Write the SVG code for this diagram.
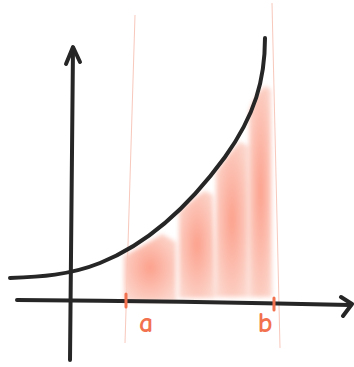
<svg xmlns="http://www.w3.org/2000/svg" width="354" height="367" viewBox="0 0 354 367">
<style>
.ink{fill:none;stroke:#262626;stroke-width:4;stroke-linecap:round;stroke-linejoin:round}
.guide{fill:none;stroke:#f8c8bc;stroke-width:1}
.tick{fill:none;stroke:#f2714e;stroke-width:3;stroke-linecap:round}
.lbl{font-family:"Comic Neue","Liberation Sans",sans-serif;font-size:28px;font-weight:bold;fill:#f2714e;text-anchor:middle}
.bar{filter:url(#soft)}
</style>
<defs>
<filter id="soft" x="-20%" y="-20%" width="140%" height="140%"><feGaussianBlur stdDeviation="2"/></filter>
<radialGradient id="g" cx="0.5" cy="0.5" r="0.6">
<stop offset="0" stop-color="#fca08c"/>
<stop offset="1" stop-color="#fcd6cc"/>
</radialGradient>
</defs>
<rect width="354" height="367" fill="#ffffff"/>
<g id="guides">
<path class="guide" d="M135 15 L125 343"/>
<path class="guide" d="M272 3 L280 348"/>
</g>
<g id="area" class="bar">
<path fill="url(#g)" d="M124 256 Q150 242 162 234 L176 242 L176 301 L124 301 Z"/>
<path fill="url(#g)" d="M179 212 Q195 197 205 191 L213 195 L215 298 L179 298 Z"/>
<path fill="url(#g)" d="M216 172 Q230 152 240 142 L248 146 L248 297 L216 297 Z"/>
<path fill="url(#g)" d="M249 110 Q258 90 266 86 L271 90 L272 297 L249 297 Z"/>
</g>
<g id="axes">
<path class="ink" d="M70 360 Q71 200 73 48"/>
<path class="ink" d="M66 64 L73 47 L80 62"/>
<path class="ink" d="M17 300 Q180 301 350 305"/>
<path class="ink" d="M341 297 L352 304 L343 316"/>
</g>
<g id="curve">
<path class="ink" d="M10 278 C40 277 70 275 100 263 C150 243 190 205 225 157 C255 115 265 80 265 38"/>
</g>
<g id="ticks">
<path class="tick" d="M126 294 L126 307"/>
<path class="tick" d="M274 298 L274 310"/>
</g>
<g id="labels">
<text class="lbl" x="146" y="332">a</text>
<text class="lbl" x="265" y="332">b</text>
</g>
</svg>
